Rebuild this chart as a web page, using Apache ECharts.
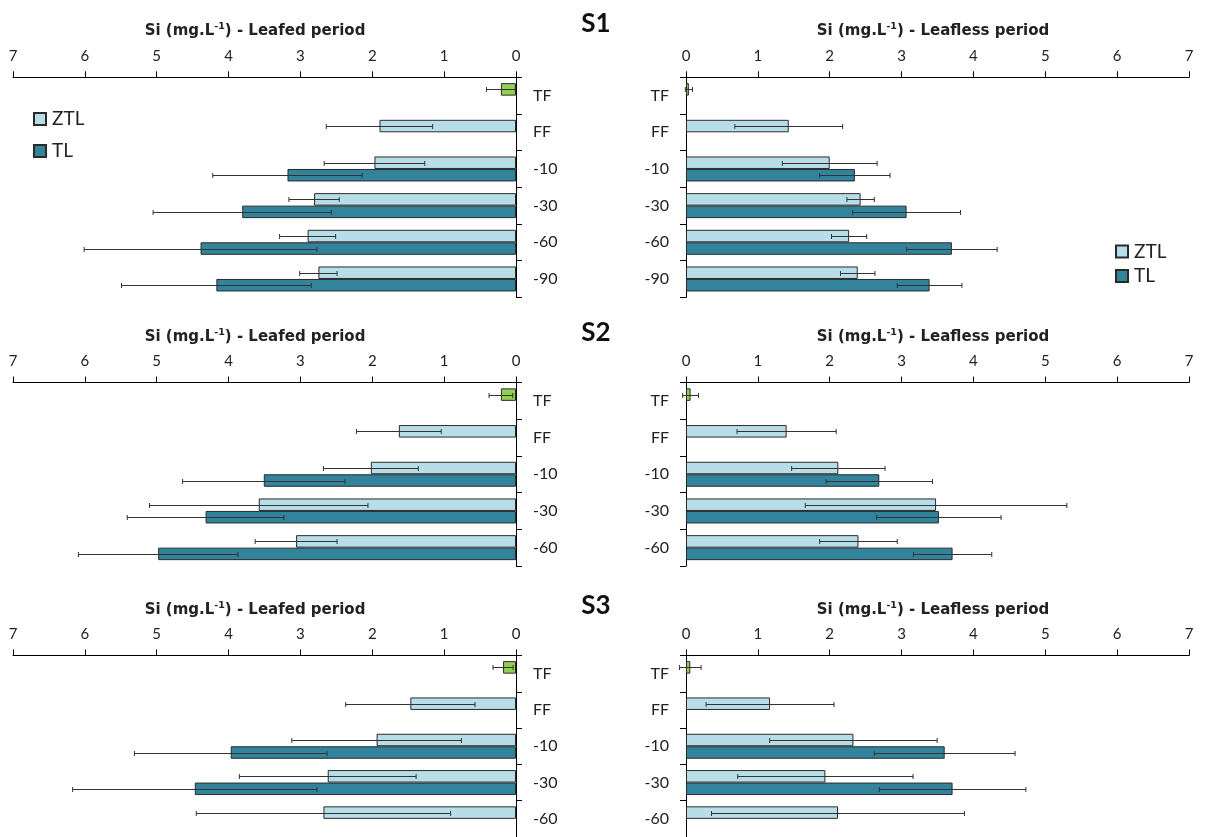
<!DOCTYPE html>
<html>
<head>
<meta charset="utf-8">
<script src="https://cdn.jsdelivr.net/npm/echarts@6/dist/echarts.min.js"></script>
<style>
  html, body { margin: 0; padding: 0; background: #fff; }
  #chart { width: 1205px; height: 837px; }
</style>
</head>
<body>
<div id="chart"></div>
<script>
// ---------------- DATA ----------------
const categoriesS1 = ['TF', 'FF', '-10', '-30', '-60', '-90'];
const categoriesS23 = ['TF', 'FF', '-10', '-30', '-60'];
const axisMax = 7;
const tickStep = 1;
const seriesNames = ['ZTL', 'TL'];

// S1 - leafed
const s1LeafedZTL    = [0.21, 1.90, 1.97, 2.81, 2.90, 2.75];
const s1LeafedZTLerr = [0.20, 0.74, 0.70, 0.35, 0.39, 0.26];
const s1LeafedTL     = [null, null, 3.18, 3.81, 4.39, 4.17];
const s1LeafedTLerr  = [null, null, 1.04, 1.24, 1.62, 1.32];
// S1 - leafless
const s1LeaflessZTL    = [0.04, 1.43, 2.00, 2.43, 2.27, 2.39];
const s1LeaflessZTLerr = [0.05, 0.75, 0.66, 0.19, 0.245, 0.24];
const s1LeaflessTL     = [null, null, 2.35, 3.07, 3.70, 3.39];
const s1LeaflessTLerr  = [null, null, 0.49, 0.75, 0.63, 0.45];
// S2 - leafed
const s2LeafedZTL    = [0.21, 1.63, 2.02, 3.58, 3.06];
const s2LeafedZTLerr = [0.165, 0.59, 0.66, 1.52, 0.57];
const s2LeafedTL     = [null, null, 3.51, 4.32, 4.98];
const s2LeafedTLerr  = [null, null, 1.13, 1.09, 1.11];
// S2 - leafless
const s2LeaflessZTL    = [0.064, 1.40, 2.12, 3.48, 2.40];
const s2LeaflessZTLerr = [0.11, 0.69, 0.65, 1.82, 0.54];
const s2LeaflessTL     = [null, null, 2.69, 3.52, 3.71];
const s2LeaflessTLerr  = [null, null, 0.74, 0.865, 0.545];
// S3 - leafed
const s3LeafedZTL    = [0.18, 1.47, 1.94, 2.62, 2.68];
const s3LeafedZTLerr = [0.14, 0.90, 1.18, 1.23, 1.77];
const s3LeafedTL     = [null, null, 3.97, 4.47, null];
const s3LeafedTLerr  = [null, null, 1.34, 1.70, null];
// S3 - leafless
const s3LeaflessZTL    = [0.06, 1.17, 2.33, 1.94, 2.115];
const s3LeaflessZTLerr = [0.15, 0.89, 1.165, 1.22, 1.76];
const s3LeaflessTL     = [null, null, 3.60, 3.71, null];
const s3LeaflessTLerr  = [null, null, 0.98, 1.02, null];

// ---------------- STYLE ----------------
const COLOR_ZTL = '#B7DEE8';
const COLOR_TL = '#31849B';
const COLOR_TF = '#92D050';
const BORDER = '#2a2a2a';
const BAR_W = 12.5;
const FONT = 'Lato, "Open Sans", sans-serif';

const panels = [
  { left: 13,  top: 77.3,  height: 220,   side: 'L', cats: categoriesS1,  ztl: s1LeafedZTL,   ztlErr: s1LeafedZTLerr,   tl: s1LeafedTL,   tlErr: s1LeafedTLerr,   label: 'Leafed period',   titleY: 30 },
  { left: 686, top: 77.3,  height: 220,   side: 'R', cats: categoriesS1,  ztl: s1LeaflessZTL, ztlErr: s1LeaflessZTLerr, tl: s1LeaflessTL, tlErr: s1LeaflessTLerr, label: 'Leafless period', titleY: 30 },
  { left: 13,  top: 382.5, height: 183.5, side: 'L', cats: categoriesS23, ztl: s2LeafedZTL,   ztlErr: s2LeafedZTLerr,   tl: s2LeafedTL,   tlErr: s2LeafedTLerr,   label: 'Leafed period',   titleY: 336.5 },
  { left: 686, top: 382.5, height: 183.5, side: 'R', cats: categoriesS23, ztl: s2LeaflessZTL, ztlErr: s2LeaflessZTLerr, tl: s2LeaflessTL, tlErr: s2LeaflessTLerr, label: 'Leafless period', titleY: 336.5 },
  { left: 13,  top: 655.5, height: 183.5, side: 'L', cats: categoriesS23, ztl: s3LeafedZTL,   ztlErr: s3LeafedZTLerr,   tl: s3LeafedTL,   tlErr: s3LeafedTLerr,   label: 'Leafed period',   titleY: 609.5 },
  { left: 686, top: 655.5, height: 183.5, side: 'R', cats: categoriesS23, ztl: s3LeaflessZTL, ztlErr: s3LeaflessZTLerr, tl: s3LeaflessTL, tlErr: s3LeaflessTLerr, label: 'Leafless period', titleY: 609.5 }
];
const sLabels = [ { text: 'S1', y: 24 }, { text: 'S2', y: 333 }, { text: 'S3', y: 606 } ];

function errRender(params, api) {
  const v = api.value(0), ci = api.value(1), e = api.value(2), slot = api.value(3);
  const a = api.coord([v - e, ci]);
  const b = api.coord([v + e, ci]);
  const y = Math.round(a[1] + slot * BAR_W / 2) + 0.5;
  const cap = 2.5;
  const style = { stroke: '#333', lineWidth: 1 };
  return {
    type: 'group',
    children: [
      { type: 'line', shape: { x1: a[0], y1: y, x2: b[0], y2: y }, style: style },
      { type: 'line', shape: { x1: a[0], y1: y - cap, x2: a[0], y2: y + cap }, style: style },
      { type: 'line', shape: { x1: b[0], y1: y - cap, x2: b[0], y2: y + cap }, style: style }
    ]
  };
}

const grid = [], xAxis = [], yAxis = [], series = [], graphic = [];

panels.forEach((p, i) => {
  const isL = p.side === 'L';
  grid.push({ left: p.left, top: p.top, width: 503, height: p.height, containLabel: false });
  xAxis.push({
    gridIndex: i, type: 'value', position: 'top', min: 0, max: axisMax, interval: tickStep,
    inverse: isL,
    axisLine: { show: true, onZero: false, lineStyle: { color: '#000', width: 1 } },
    axisTick: { show: true, length: 6, lineStyle: { color: '#000' } },
    axisLabel: { fontSize: 15, color: '#222', margin: 14, fontFamily: FONT },
    splitLine: { show: false }
  });
  yAxis.push({
    gridIndex: i, type: 'category', data: p.cats, inverse: true,
    position: isL ? 'right' : 'left',
    axisLine: { show: true, onZero: false, lineStyle: { color: '#000', width: 1 } },
    axisTick: { show: true, length: 6, lineStyle: { color: '#000' } },
    axisLabel: { fontSize: 16, color: '#222', margin: 17, fontFamily: FONT },
    splitLine: { show: false }
  });
  series.push({
    name: seriesNames[0], type: 'bar', xAxisIndex: i, yAxisIndex: i,
    barWidth: BAR_W, barGap: '0%',
    itemStyle: { color: COLOR_ZTL, borderColor: BORDER, borderWidth: 1 },
    data: p.ztl.map((v, k) => k === 0 ? { value: v, itemStyle: { color: COLOR_TF } } : v),
    z: 2
  });
  series.push({
    name: seriesNames[1], type: 'bar', xAxisIndex: i, yAxisIndex: i,
    barWidth: BAR_W, barGap: '0%',
    itemStyle: { color: COLOR_TL, borderColor: BORDER, borderWidth: 1 },
    data: p.tl,
    z: 2
  });
  const errData = [];
  p.ztl.forEach((v, k) => { if (v != null) errData.push([v, k, p.ztlErr[k], -1]); });
  p.tl.forEach((v, k) => { if (v != null) errData.push([v, k, p.tlErr[k], 1]); });
  series.push({
    type: 'custom', xAxisIndex: i, yAxisIndex: i, renderItem: errRender,
    encode: { x: 0, y: 1 }, data: errData, z: 5, silent: true
  });
  const cx = isL ? 255 : 933;
  graphic.push({
    type: 'text', x: cx, y: p.titleY,
    style: {
      text: '{t|Si (mg.L}{s|-1}{t|) - ' + p.label + '}',
      align: 'center', verticalAlign: 'middle',
      textAlign: 'center', textVerticalAlign: 'middle',
      rich: {
        t: { fontSize: 15, fontWeight: 'bold', fontFamily: '"DejaVu Sans", sans-serif', fill: '#222', color: '#222', lineHeight: 17, verticalAlign: 'bottom' },
        s: { fontSize: 9.5, fontWeight: 'bold', fontFamily: '"DejaVu Sans", sans-serif', fill: '#222', color: '#222', lineHeight: 17, verticalAlign: 'top' }
      }
    }
  });
});

sLabels.forEach(s => {
  graphic.push({
    type: 'text', x: 596, y: s.y,
    style: {
      text: s.text, fill: '#111', font: 'bold 26px Lato, sans-serif',
      align: 'center', verticalAlign: 'middle', textAlign: 'center', textVerticalAlign: 'middle'
    }
  });
});

const legendCommon = {
  orient: 'vertical', icon: 'rect', itemWidth: 12, itemHeight: 12,
  padding: 0, selectedMode: false, data: seriesNames,
  textStyle: { fontSize: 19, color: '#222', fontFamily: FONT, lineHeight: 19, padding: [0, 0, 0, 1] }
};

const option = {
  animation: false,
  backgroundColor: '#fff',
  grid: grid, xAxis: xAxis, yAxis: yAxis, series: series, graphic: graphic,
  legend: [
    Object.assign({}, legendCommon, { left: 33, top: 109.5, itemGap: 13 }),
    Object.assign({}, legendCommon, { left: 1115, top: 242, itemGap: 5.5 })
  ]
};

const chart = echarts.init(document.getElementById('chart'), null, { renderer: 'canvas' });
chart.setOption(option);
</script>
</body>
</html>
